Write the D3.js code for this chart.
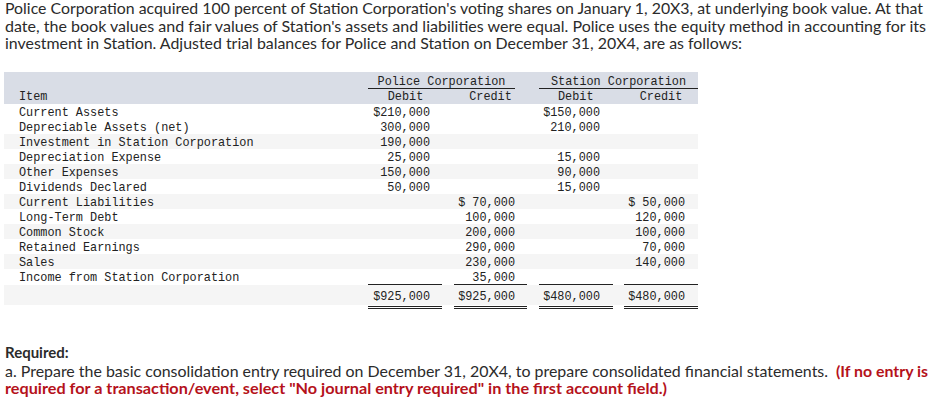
<!DOCTYPE html>
<html lang="en">
<head>
<meta charset="utf-8">
<script src="https://cdn.jsdelivr.net/npm/d3@7"></script>
<style>
  body { margin: 0; background: #fff; }
  .para { font-family: Lato, "Open Sans", sans-serif; font-size: 15px; fill: #2b2b2b; }
  .mono { font-family: "Liberation Mono", "DejaVu Sans Mono", monospace; font-size: 11.85px; fill: #222; }
</style>
</head>
<body>
<div id="chart"></div>
<script>
// ---- data ----
var items = ["Current Assets", "Depreciable Assets (net)", "Investment in Station Corporation",
  "Depreciation Expense", "Other Expenses", "Dividends Declared", "Current Liabilities",
  "Long-Term Debt", "Common Stock", "Retained Earnings", "Sales", "Income from Station Corporation"];
var policeDebit   = [210000, 300000, 190000, 25000, 150000, 50000, null, null, null, null, null, null];
var policeCredit  = [null, null, null, null, null, null, 70000, 100000, 200000, 290000, 230000, 35000];
var stationDebit  = [150000, 210000, null, 15000, 90000, 15000, null, null, null, null, null, null];
var stationCredit = [null, null, null, null, null, null, 50000, 120000, 100000, 70000, 140000, null];
var totals = [925000, 925000, 480000, 480000];
var groups = ["Police Corporation", "Station Corporation"];
var colLabels = ["Debit", "Credit", "Debit", "Credit"];

var introLines = [
  "Police Corporation acquired 100 percent of Station Corporation's voting shares on January 1, 20X3, at underlying book value. At that",
  "date, the book values and fair values of Station's assets and liabilities were equal. Police uses the equity method in accounting for its",
  "investment in Station. Adjusted trial balances for Police and Station on December 31, 20X4, are as follows:"
];

var W = 940, H = 408;
var svg = d3.select("#chart").append("svg").attr("width", W).attr("height", H);

// intro paragraph
var introW = [918, 921, 737];
svg.selectAll(".intro").data(introLines).enter().append("text")
  .attr("class", "para")
  .attr("x", 5)
  .attr("y", function(d, i) { return 14 + i * 17.7; })
  .attr("textLength", function(d, i) { return introW[i]; })
  .attr("lengthAdjust", "spacingAndGlyphs")
  .text(function(d) { return d; });

// ---- table ----
var cols = [policeDebit, policeCredit, stationDebit, stationCredit];
var colRight = d3.scaleOrdinal().domain([0, 1, 2, 3]).range([430, 515, 600, 685]);
var colMid = d3.scaleOrdinal().domain([0, 1, 2, 3]).range([405.5, 490.5, 575.8, 661]);
var ruleSeg = [[368, 442], [454, 527], [539, 613], [624, 698]];
var rowY = d3.scaleBand().domain(d3.range(items.length)).range([104, 284]);

var fmt = d3.format(",");
function money(v, first) {
  if (v == null) return "";
  var s = fmt(v);
  if (!first) return s;
  while (s.length < 7) s = " " + s;
  return "$" + s;
}

// header band
svg.append("rect").attr("x", 4).attr("y", 72).attr("width", 694).attr("height", 32).attr("fill", "#d9dde6");

// row stripes
svg.selectAll(".stripe").data(d3.range(items.length).filter(function(i) { return i % 2 == 0 && i > 0; }))
  .enter().append("rect")
  .attr("x", 4).attr("width", 694)
  .attr("y", function(i) { return rowY(i); })
  .attr("height", rowY.bandwidth())
  .attr("fill", "#f5f5f5");
svg.append("rect").attr("x", 4).attr("y", 285).attr("width", 694).attr("height", 20).attr("fill", "#f5f5f5");

// headers
svg.append("text").attr("class", "mono").attr("x", 19).attr("y", 100).text("Item");
svg.selectAll(".grp").data(groups).enter().append("text")
  .attr("class", "mono").attr("text-anchor", "middle")
  .attr("x", function(d, i) { return [441.5, 618.5][i]; })
  .attr("y", 85)
  .text(function(d) { return d; });
svg.selectAll(".grpline").data([[368, 515], [539, 698]]).enter().append("line")
  .attr("x1", function(d) { return d[0]; }).attr("x2", function(d) { return d[1]; })
  .attr("y1", 88.5).attr("y2", 88.5)
  .attr("stroke", "#222").attr("stroke-width", 1);
svg.selectAll(".collab").data(colLabels).enter().append("text")
  .attr("class", "mono").attr("text-anchor", "middle")
  .attr("x", function(d, i) { return colMid(i); })
  .attr("y", 100)
  .text(function(d) { return d; });

// item labels
svg.selectAll(".item").data(items).enter().append("text")
  .attr("class", "mono")
  .attr("x", 19)
  .attr("y", function(d, i) { return rowY(i) + 12; })
  .text(function(d) { return d; });

// values
cols.forEach(function(col, c) {
  var firstIdx = col.findIndex(function(v) { return v != null; });
  svg.selectAll(".v" + c).data(col).enter().append("text")
    .attr("class", "mono")
    .attr("text-anchor", "end")
    .attr("xml:space", "preserve")
    .style("white-space", "pre")
    .attr("x", colRight(c))
    .attr("y", function(d, i) { return rowY(i) + 12; })
    .text(function(d, i) { return money(d, i == firstIdx); });
});

// totals
svg.selectAll(".tot").data(totals).enter().append("text")
  .attr("class", "mono").attr("text-anchor", "end")
  .attr("x", function(d, i) { return colRight(i); })
  .attr("y", 300)
  .text(function(d) { return "$" + fmt(d); });

[284.5, 306.5, 308.5].forEach(function(y) {
  svg.selectAll(null).data(ruleSeg).enter().append("line")
    .attr("x1", function(d) { return d[0]; }).attr("x2", function(d) { return d[1]; })
    .attr("y1", y).attr("y2", y)
    .attr("stroke", "#222").attr("stroke-width", 1);
});

// required section
svg.append("text").attr("class", "para").attr("x", 5).attr("y", 358)
  .style("font-weight", "bold").text("Required:");
svg.append("text").attr("class", "para").attr("x", 5).attr("y", 376.5)
  .attr("textLength", 823).attr("lengthAdjust", "spacingAndGlyphs")
  .text("a. Prepare the basic consolidation entry required on December 31, 20X4, to prepare consolidated financial statements.");
svg.append("text").attr("class", "para").attr("x", 836).attr("y", 376.5)
  .style("font-weight", "bold").style("fill", "#b5121b")
  .attr("textLength", 92).attr("lengthAdjust", "spacingAndGlyphs")
  .text("(If no entry is");
svg.append("text").attr("class", "para").attr("x", 5).attr("y", 394)
  .style("font-weight", "bold").style("fill", "#b5121b")
  .attr("textLength", 662).attr("lengthAdjust", "spacingAndGlyphs")
  .text("required for a transaction/event, select \"No journal entry required\" in the first account field.)");
</script>
</body>
</html>
